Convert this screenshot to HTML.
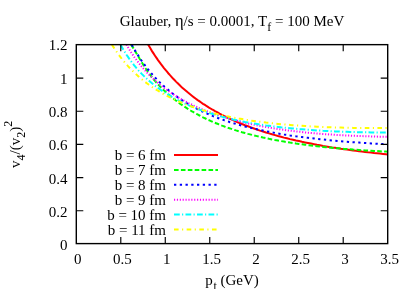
<!DOCTYPE html>
<html><head><meta charset="utf-8">
<style>
html,body{margin:0;padding:0;background:#fff;}
svg{display:block;will-change:transform;}
text{font-family:"Liberation Serif",serif;font-size:15px;fill:#000;}
.c{fill:none;stroke-width:2;}
</style></head><body>
<svg width="413" height="289" viewBox="0 0 413 289">
<rect width="413" height="289" fill="#fff"/>
<defs><clipPath id="cp"><rect x="76.3" y="44.65" width="311.4" height="198.95"/></clipPath></defs>
<g clip-path="url(#cp)">
<path id="red" class="c" stroke="#f00" d="M148.1,44.6 L149.0,46.1 L150.5,48.6 L152.0,51.1 L153.5,53.4 L155.0,55.7 L156.5,57.9 L158.0,60.1 L159.5,62.1 L161.0,64.2 L162.5,66.1 L164.0,68.1 L165.5,69.9 L167.0,71.7 L168.5,73.5 L170.0,75.2 L171.5,76.8 L173.0,78.5 L174.5,80.0 L176.0,81.6 L177.5,83.1 L179.0,84.5 L180.5,86.0 L182.0,87.4 L183.5,88.7 L185.0,90.0 L186.5,91.3 L188.0,92.6 L189.5,93.8 L191.0,95.0 L192.5,96.2 L194.0,97.4 L195.5,98.5 L197.0,99.6 L198.5,100.7 L200.0,101.7 L201.5,102.7 L203.0,103.8 L204.5,104.7 L206.0,105.7 L207.5,106.6 L209.0,107.6 L210.5,108.5 L212.0,109.4 L213.5,110.2 L215.0,111.1 L216.5,111.9 L218.0,112.7 L219.5,113.6 L221.0,114.3 L222.5,115.1 L224.0,115.9 L225.5,116.6 L227.0,117.4 L228.5,118.1 L230.0,118.8 L233.0,120.1 L236.0,121.5 L239.0,122.8 L242.0,124.0 L245.0,125.2 L248.0,126.3 L251.0,127.4 L254.0,128.5 L257.0,129.6 L260.0,130.6 L263.0,131.5 L266.0,132.5 L269.0,133.4 L272.0,134.3 L275.0,135.1 L278.0,136.0 L281.0,136.8 L284.0,137.6 L287.0,138.3 L290.0,139.1 L293.0,139.8 L296.0,140.5 L299.0,141.1 L302.0,141.8 L305.0,142.4 L308.0,143.0 L311.0,143.6 L314.0,144.2 L317.0,144.8 L320.0,145.3 L323.0,145.9 L326.0,146.4 L329.0,146.9 L332.0,147.4 L335.0,147.8 L338.0,148.3 L341.0,148.8 L344.0,149.2 L347.0,149.6 L350.0,150.0 L353.0,150.4 L356.0,150.8 L359.0,151.2 L362.0,151.6 L365.0,151.9 L368.0,152.3 L371.0,152.6 L374.0,153.0 L377.0,153.3 L380.0,153.6 L383.0,153.9 L386.0,154.2 L387.7,154.4"/>
<path id="green" class="c" stroke="#0f0" stroke-dasharray="4.6 2.3" d="M131.0,44.6 L132.0,46.1 L133.5,48.4 L135.0,50.9 L136.5,53.4 L138.0,56.0 L139.5,58.5 L141.0,61.0 L142.5,63.5 L144.0,65.9 L145.5,68.3 L147.0,70.5 L148.5,72.7 L150.0,74.7 L151.5,76.7 L153.0,78.6 L154.5,80.4 L156.0,82.1 L157.5,83.8 L159.0,85.4 L160.5,87.0 L162.0,88.5 L163.5,89.9 L165.0,91.3 L166.5,92.7 L168.0,94.0 L169.5,95.3 L171.0,96.6 L172.5,97.8 L174.0,99.0 L175.5,100.2 L177.0,101.3 L178.5,102.5 L180.0,103.6 L181.5,104.6 L183.0,105.6 L184.5,106.7 L186.0,107.6 L187.5,108.6 L189.0,109.5 L190.5,110.5 L192.0,111.4 L193.5,112.2 L195.0,113.1 L196.5,113.9 L198.0,114.7 L199.5,115.5 L201.0,116.3 L202.5,117.1 L204.0,117.8 L205.5,118.5 L207.0,119.3 L208.5,120.0 L210.0,120.6 L211.5,121.3 L213.0,122.0 L214.5,122.6 L216.0,123.2 L217.5,123.8 L219.0,124.4 L220.5,125.0 L222.0,125.6 L223.5,126.1 L225.0,126.7 L226.5,127.2 L228.0,127.8 L229.5,128.3 L230.0,128.4 L233.0,129.4 L236.0,130.4 L239.0,131.3 L242.0,132.2 L245.0,133.0 L248.0,133.9 L251.0,134.6 L254.0,135.4 L257.0,136.1 L260.0,136.8 L263.0,137.5 L266.0,138.1 L269.0,138.8 L272.0,139.4 L275.0,140.0 L278.0,140.5 L281.0,141.1 L284.0,141.6 L287.0,142.1 L290.0,142.6 L293.0,143.0 L296.0,143.5 L299.0,143.9 L302.0,144.3 L305.0,144.7 L308.0,145.1 L311.0,145.5 L314.0,145.9 L317.0,146.2 L320.0,146.5 L323.0,146.9 L326.0,147.2 L329.0,147.5 L332.0,147.8 L335.0,148.1 L338.0,148.3 L341.0,148.6 L344.0,148.9 L347.0,149.1 L350.0,149.3 L353.0,149.6 L356.0,149.8 L359.0,150.0 L362.0,150.2 L365.0,150.4 L368.0,150.6 L371.0,150.8 L374.0,151.0 L377.0,151.1 L380.0,151.3 L383.0,151.5 L386.0,151.6 L387.7,151.7"/>
<path id="blue" class="c" stroke="#00f" stroke-dasharray="2.3 3.45" d="M131.8,44.7 L133.0,46.9 L134.5,49.5 L136.0,52.0 L137.5,54.5 L139.0,56.8 L140.5,59.1 L142.0,61.3 L143.5,63.4 L145.0,65.4 L146.5,67.4 L148.0,69.3 L149.5,71.1 L151.0,72.9 L152.5,74.7 L154.0,76.3 L155.5,78.0 L157.0,79.6 L158.5,81.1 L160.0,82.6 L161.5,84.0 L163.0,85.4 L164.5,86.8 L166.0,88.1 L167.5,89.4 L169.0,90.6 L170.5,91.9 L172.0,93.0 L173.5,94.2 L175.0,95.3 L176.5,96.4 L178.0,97.5 L179.5,98.5 L181.0,99.5 L182.5,100.5 L184.0,101.5 L185.5,102.4 L187.0,103.3 L188.5,104.2 L190.0,105.1 L191.5,105.9 L193.0,106.7 L194.5,107.5 L196.0,108.3 L197.5,109.1 L199.0,109.9 L200.5,110.6 L202.0,111.3 L203.5,112.0 L205.0,112.7 L206.5,113.4 L208.0,114.0 L209.5,114.7 L211.0,115.3 L212.5,115.9 L214.0,116.5 L215.5,117.1 L217.0,117.7 L218.5,118.2 L220.0,118.8 L221.5,119.3 L223.0,119.8 L224.5,120.4 L226.0,120.9 L227.5,121.4 L229.0,121.8 L230.0,122.2 L233.0,123.1 L236.0,124.0 L239.0,124.8 L242.0,125.7 L245.0,126.5 L248.0,127.2 L251.0,127.9 L254.0,128.7 L257.0,129.3 L260.0,130.0 L263.0,130.6 L266.0,131.2 L269.0,131.8 L272.0,132.4 L275.0,132.9 L278.0,133.5 L281.0,134.0 L284.0,134.5 L287.0,134.9 L290.0,135.4 L293.0,135.8 L296.0,136.3 L299.0,136.7 L302.0,137.1 L305.0,137.5 L308.0,137.8 L311.0,138.2 L314.0,138.5 L317.0,138.9 L320.0,139.2 L323.0,139.5 L326.0,139.8 L329.0,140.1 L332.0,140.4 L335.0,140.7 L338.0,141.0 L341.0,141.2 L344.0,141.5 L347.0,141.7 L350.0,142.0 L353.0,142.2 L356.0,142.4 L359.0,142.6 L362.0,142.8 L365.0,143.0 L368.0,143.2 L371.0,143.4 L374.0,143.6 L377.0,143.8 L380.0,144.0 L383.0,144.1 L386.0,144.3 L387.7,144.4"/>
<path id="mag" class="c" stroke="#f0f" stroke-dasharray="1.15 1.73" d="M126.4,44.6 L127.0,45.7 L128.5,48.2 L130.0,50.6 L131.5,52.9 L133.0,55.1 L134.5,57.3 L136.0,59.3 L137.5,61.3 L139.0,63.3 L140.5,65.1 L142.0,66.9 L143.5,68.7 L145.0,70.3 L146.5,72.0 L148.0,73.6 L149.5,75.1 L151.0,76.6 L152.5,78.0 L154.0,79.4 L155.5,80.8 L157.0,82.1 L158.5,83.4 L160.0,84.6 L161.5,85.9 L163.0,87.0 L164.5,88.2 L166.0,89.3 L167.5,90.4 L169.0,91.4 L170.5,92.5 L172.0,93.5 L173.5,94.5 L175.0,95.4 L176.5,96.4 L178.0,97.3 L179.5,98.2 L181.0,99.0 L182.5,99.9 L184.0,100.7 L185.5,101.5 L187.0,102.3 L188.5,103.1 L190.0,103.8 L191.5,104.5 L193.0,105.3 L194.5,106.0 L196.0,106.7 L197.5,107.3 L199.0,108.0 L200.5,108.6 L202.0,109.3 L203.5,109.9 L205.0,110.5 L206.5,111.1 L208.0,111.6 L209.5,112.2 L211.0,112.8 L212.5,113.3 L214.0,113.8 L215.5,114.4 L217.0,114.9 L218.5,115.4 L220.0,115.9 L221.5,116.4 L223.0,116.8 L224.5,117.3 L226.0,117.7 L227.5,118.2 L229.0,118.6 L230.0,118.9 L233.0,119.7 L236.0,120.5 L239.0,121.3 L242.0,122.1 L245.0,122.8 L248.0,123.5 L251.0,124.1 L254.0,124.7 L257.0,125.3 L260.0,125.9 L263.0,126.5 L266.0,127.0 L269.0,127.5 L272.0,128.0 L275.0,128.5 L278.0,129.0 L281.0,129.4 L284.0,129.8 L287.0,130.3 L290.0,130.6 L293.0,131.0 L296.0,131.4 L299.0,131.7 L302.0,132.0 L305.0,132.4 L308.0,132.7 L311.0,132.9 L314.0,133.2 L317.0,133.5 L320.0,133.7 L323.0,134.0 L326.0,134.2 L329.0,134.4 L332.0,134.6 L335.0,134.8 L338.0,135.0 L341.0,135.2 L344.0,135.3 L347.0,135.5 L350.0,135.6 L353.0,135.8 L356.0,135.9 L359.0,136.0 L362.0,136.1 L365.0,136.2 L368.0,136.3 L371.0,136.4 L374.0,136.5 L377.0,136.6 L380.0,136.7 L383.0,136.7 L386.0,136.8 L387.7,136.8"/>
<path id="cyan" class="c" stroke="#0ff" stroke-dasharray="5.75 2.3 1.15 2.3" d="M120.5,44.7 L122.0,47.3 L123.5,49.9 L125.0,52.3 L126.5,54.7 L128.0,56.9 L129.5,59.1 L131.0,61.2 L132.5,63.1 L134.0,65.1 L135.5,66.9 L137.0,68.7 L138.5,70.4 L140.0,72.0 L141.5,73.6 L143.0,75.1 L144.5,76.6 L146.0,78.0 L147.5,79.4 L149.0,80.7 L150.5,82.0 L152.0,83.3 L153.5,84.5 L155.0,85.7 L156.5,86.8 L158.0,87.9 L159.5,89.0 L161.0,90.1 L162.5,91.1 L164.0,92.1 L165.5,93.0 L167.0,94.0 L168.5,94.9 L170.0,95.8 L171.5,96.7 L173.0,97.5 L174.5,98.3 L176.0,99.1 L177.5,99.9 L179.0,100.7 L180.5,101.4 L182.0,102.2 L183.5,102.9 L185.0,103.6 L186.5,104.3 L188.0,104.9 L189.5,105.6 L191.0,106.2 L192.5,106.9 L194.0,107.5 L195.5,108.1 L197.0,108.6 L198.5,109.2 L200.0,109.8 L201.5,110.3 L203.0,110.8 L204.5,111.4 L206.0,111.9 L207.5,112.4 L209.0,112.9 L210.5,113.3 L212.0,113.8 L213.5,114.3 L215.0,114.7 L216.5,115.1 L218.0,115.6 L219.5,116.0 L221.0,116.4 L222.5,116.8 L224.0,117.2 L225.5,117.6 L227.0,117.9 L228.5,118.3 L230.0,118.7 L233.0,119.4 L236.0,120.0 L239.0,120.7 L242.0,121.3 L245.0,121.9 L248.0,122.4 L251.0,123.0 L254.0,123.5 L257.0,124.0 L260.0,124.5 L263.0,124.9 L266.0,125.4 L269.0,125.8 L272.0,126.2 L275.0,126.6 L278.0,126.9 L281.0,127.3 L284.0,127.6 L287.0,127.9 L290.0,128.2 L293.0,128.5 L296.0,128.8 L299.0,129.1 L302.0,129.3 L305.0,129.6 L308.0,129.8 L311.0,130.0 L314.0,130.2 L317.0,130.4 L320.0,130.6 L323.0,130.8 L326.0,130.9 L329.0,131.1 L332.0,131.2 L335.0,131.4 L338.0,131.5 L341.0,131.6 L344.0,131.7 L347.0,131.8 L350.0,131.9 L353.0,132.0 L356.0,132.1 L359.0,132.2 L362.0,132.2 L365.0,132.3 L368.0,132.3 L371.0,132.4 L374.0,132.4 L377.0,132.5 L380.0,132.5 L383.0,132.5 L386.0,132.5 L387.7,132.6"/>
<path id="yel" class="c" stroke="#ff0" stroke-dasharray="4.6 3.45 1.15 3.45" d="M111.9,44.6 L113.0,46.4 L114.5,48.7 L116.0,50.9 L117.5,53.1 L119.0,55.1 L120.5,57.1 L122.0,59.1 L123.5,60.9 L125.0,62.7 L126.5,64.4 L128.0,66.1 L129.5,67.7 L131.0,69.3 L132.5,70.8 L134.0,72.3 L135.5,73.7 L137.0,75.1 L138.5,76.4 L140.0,77.7 L141.5,79.0 L143.0,80.2 L144.5,81.4 L146.0,82.6 L147.5,83.7 L149.0,84.8 L150.5,85.8 L152.0,86.9 L153.5,87.9 L155.0,88.9 L156.5,89.8 L158.0,90.7 L159.5,91.6 L161.0,92.5 L162.5,93.4 L164.0,94.2 L165.5,95.0 L167.0,95.8 L168.5,96.6 L170.0,97.4 L171.5,98.1 L173.0,98.8 L174.5,99.5 L176.0,100.2 L177.5,100.9 L179.0,101.5 L180.5,102.2 L182.0,102.8 L183.5,103.4 L185.0,104.0 L186.5,104.6 L188.0,105.2 L189.5,105.7 L191.0,106.3 L192.5,106.8 L194.0,107.3 L195.5,107.8 L197.0,108.3 L198.5,108.8 L200.0,109.3 L201.5,109.7 L203.0,110.2 L204.5,110.6 L206.0,111.1 L207.5,111.5 L209.0,111.9 L210.5,112.3 L212.0,112.7 L213.5,113.1 L215.0,113.5 L216.5,113.9 L218.0,114.2 L219.5,114.6 L221.0,114.9 L222.5,115.3 L224.0,115.6 L225.5,115.9 L227.0,116.3 L228.5,116.6 L230.0,116.9 L233.0,117.5 L236.0,118.0 L239.0,118.6 L242.0,119.1 L245.0,119.6 L248.0,120.1 L251.0,120.6 L254.0,121.0 L257.0,121.4 L260.0,121.8 L263.0,122.2 L266.0,122.6 L269.0,122.9 L272.0,123.2 L275.0,123.6 L278.0,123.9 L281.0,124.2 L284.0,124.4 L287.0,124.7 L290.0,124.9 L293.0,125.2 L296.0,125.4 L299.0,125.6 L302.0,125.8 L305.0,126.0 L308.0,126.2 L311.0,126.4 L314.0,126.5 L317.0,126.7 L320.0,126.8 L323.0,127.0 L326.0,127.1 L329.0,127.2 L332.0,127.3 L335.0,127.4 L338.0,127.5 L341.0,127.6 L344.0,127.7 L347.0,127.7 L350.0,127.8 L353.0,127.9 L356.0,127.9 L359.0,128.0 L362.0,128.0 L365.0,128.0 L368.0,128.1 L371.0,128.1 L374.0,128.1 L377.0,128.1 L380.0,128.1 L383.0,128.1 L386.0,128.1 L387.7,128.1"/>
</g>
<!-- legend -->
<g class="c">
<path stroke="#f00" d="M174,155H218"/>
<path stroke="#0f0" stroke-dasharray="4.6 2.3" d="M174,169.9H218"/>
<path stroke="#00f" stroke-dasharray="2.3 3.45" d="M174,184.8H218"/>
<path stroke="#f0f" stroke-dasharray="1.15 1.73" d="M174,199.7H218"/>
<path stroke="#0ff" stroke-dasharray="5.75 2.3 1.15 2.3" d="M174,214.6H218"/>
<path stroke="#ff0" stroke-dasharray="4.6 3.45 1.15 3.45" d="M174,229.5H218"/>
</g>
<g text-anchor="end">
<text x="166" y="160">b = 6 fm</text>
<text x="166" y="174.9">b = 7 fm</text>
<text x="166" y="189.8">b = 8 fm</text>
<text x="166" y="204.7">b = 9 fm</text>
<text x="166" y="219.6">b = 10 fm</text>
<text x="166" y="234.5">b = 11 fm</text>
</g>
<!-- frame & ticks -->
<g fill="none" stroke="#000" stroke-width="1.4">
<rect x="76.3" y="44.65" width="311.40" height="198.95"/>
<g stroke-width="1.15">
<path d="M76.3,210.74h7.0M76.3,177.58h7.0M76.3,144.43h7.0M76.3,111.27h7.0M76.3,78.11h7.0"/>
<path d="M387.7,210.74h-7.0M387.7,177.58h-7.0M387.7,144.43h-7.0M387.7,111.27h-7.0M387.7,78.11h-7.0"/>
<path d="M120.79,243.6v-6.6M165.27,243.6v-6.6M209.76,243.6v-6.6M254.24,243.6v-6.6M298.73,243.6v-6.6M343.21,243.6v-6.6"/>
<path d="M120.79,44.65v6.6M165.27,44.65v6.6M209.76,44.65v6.6M254.24,44.65v6.6M298.73,44.65v6.6M343.21,44.65v6.6"/>
</g>
</g>
<!-- y tick labels -->
<g text-anchor="end">
<text x="67.5" y="249.8">0</text>
<text x="67.5" y="216.6">0.2</text>
<text x="67.5" y="183.5">0.4</text>
<text x="67.5" y="150.3">0.6</text>
<text x="67.5" y="117.1">0.8</text>
<text x="67.5" y="84">1</text>
<text x="67.5" y="49.8">1.2</text>
</g>
<g text-anchor="middle">
<text x="77.7" y="264">0</text>
<text x="122.4" y="264">0.5</text>
<text x="166.8" y="264">1</text>
<text x="211.5" y="264">1.5</text>
<text x="256" y="264">2</text>
<text x="300.5" y="264">2.5</text>
<text x="345" y="264">3</text>
<text x="389.5" y="264">3.5</text>
</g>
<text x="232" y="25.7" text-anchor="middle">Glauber, <tspan font-size="16.5">η</tspan>/s = 0.0001, T<tspan dy="5" font-size="12">f</tspan><tspan dy="-5"> = 100 MeV</tspan></text>
<text x="232" y="285" text-anchor="middle">p<tspan dy="4.8" dx="0.8" font-size="12">t</tspan><tspan dy="-4.8"> (GeV)</tspan></text>
<text transform="translate(20.2,144.3) rotate(-90)" text-anchor="middle">v<tspan dy="4.3" font-size="12">4</tspan><tspan dy="-4.3">/(v</tspan><tspan dy="4.3" font-size="12">2</tspan><tspan dy="-4.3">)</tspan><tspan dy="-8" font-size="12">2</tspan></text>
</svg>
</body></html>
